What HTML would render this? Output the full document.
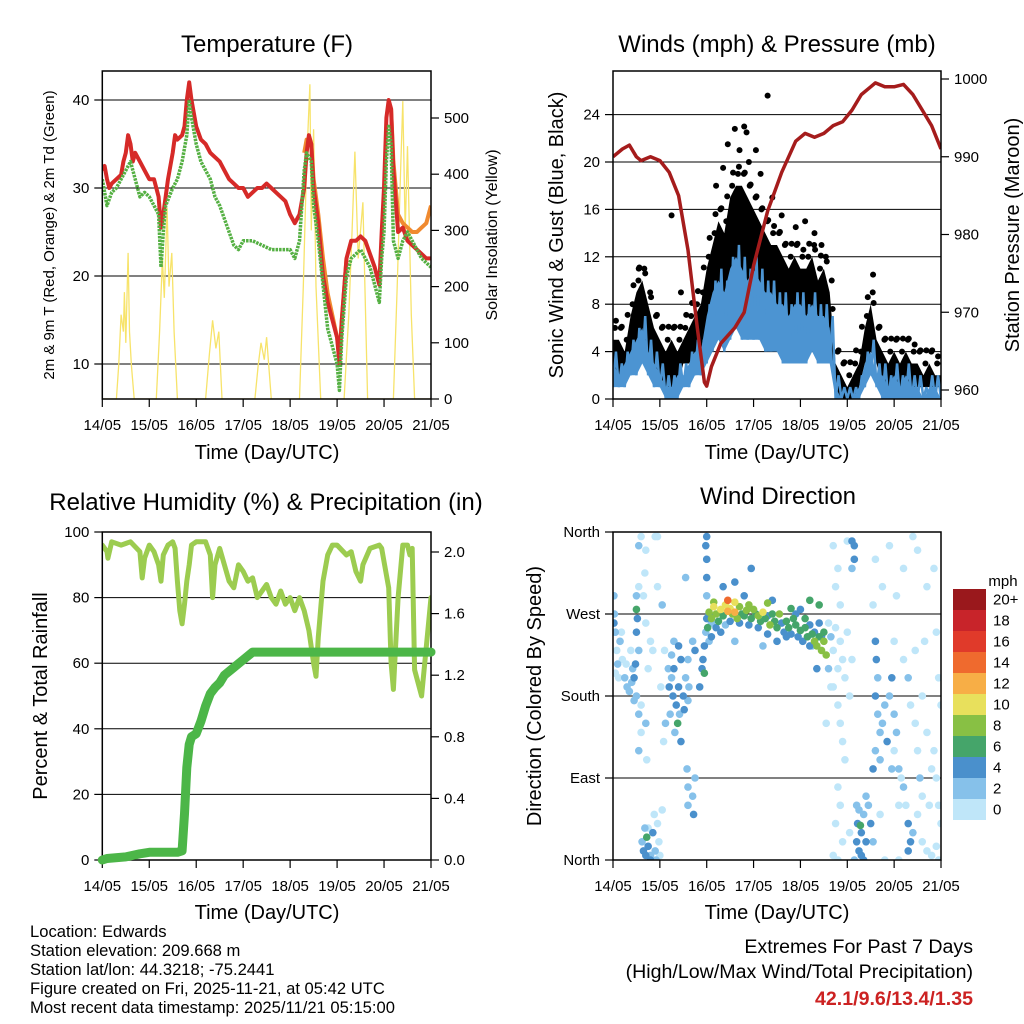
<!DOCTYPE html>
<html><head><meta charset="utf-8"><title>Station Meteogram</title>
<style>
html,body{margin:0;padding:0;background:#fff;}
svg{display:block;font-family:"Liberation Sans",Arial,sans-serif;}
</style></head>
<body>
<svg id="chart" width="1024" height="1024" viewBox="0 0 1024 1024" xmlns="http://www.w3.org/2000/svg">
<rect width="1024" height="1024" fill="#fff"/>
<defs>
<clipPath id="clipT"><rect x="102.3" y="71" width="328.7" height="328"/></clipPath>
<clipPath id="clipW"><rect x="613" y="71" width="328" height="328"/></clipPath>
<clipPath id="clipR"><rect x="102.3" y="532" width="328.7" height="328"/></clipPath>
<clipPath id="clipD"><rect x="613" y="532" width="328" height="328"/></clipPath>
</defs>
<g id="gT"></g>
<g id="gW"></g>
<g id="gR"></g>
<g id="gD"></g>

<text x="267" y="52" font-size="24" text-anchor="middle">Temperature (F)</text>
<text x="777" y="52" font-size="24" text-anchor="middle">Winds (mph) &amp; Pressure (mb)</text>
<text x="266" y="510" font-size="24" text-anchor="middle">Relative Humidity (%) &amp; Precipitation (in)</text>
<text x="778" y="504" font-size="24" text-anchor="middle">Wind Direction</text>

<text x="267" y="459" font-size="20" text-anchor="middle">Time (Day/UTC)</text>
<text x="777" y="459" font-size="20" text-anchor="middle">Time (Day/UTC)</text>
<text x="267" y="919" font-size="20" text-anchor="middle">Time (Day/UTC)</text>
<text x="777" y="919" font-size="20" text-anchor="middle">Time (Day/UTC)</text>

<text transform="translate(54,235) rotate(-90)" font-size="15" text-anchor="middle">2m &amp; 9m T (Red, Orange) &amp; 2m Td (Green)</text>
<text transform="translate(497,235) rotate(-90)" font-size="16" text-anchor="middle">Solar Insolation (Yellow)</text>
<text transform="translate(563,235) rotate(-90)" font-size="20" text-anchor="middle">Sonic Wind &amp; Gust (Blue, Black)</text>
<text transform="translate(1019,235) rotate(-90)" font-size="20" text-anchor="middle">Station Pressure (Maroon)</text>
<text transform="translate(47,696) rotate(-90)" font-size="20" text-anchor="middle">Percent &amp; Total Rainfall</text>
<text transform="translate(541,696) rotate(-90)" font-size="20" text-anchor="middle">Direction (Colored By Speed)</text>

<g font-size="16.6">
<text x="30" y="937">Location: Edwards</text>
<text x="30" y="956">Station elevation: 209.668 m</text>
<text x="30" y="975">Station lat/lon: 44.3218; -75.2441</text>
<text x="30" y="994">Figure created on Fri, 2025-11-21, at 05:42 UTC</text>
<text x="30" y="1013">Most recent data timestamp: 2025/11/21 05:15:00</text>
</g>
<g text-anchor="end">
<text x="973" y="953" font-size="19.6">Extremes For Past 7 Days</text>
<text x="973" y="978" font-size="19.6">(High/Low/Max Wind/Total Precipitation)</text>
<text x="973" y="1005" font-size="19.6" font-weight="bold" fill="#cc2222">42.1/9.6/13.4/1.35</text>
</g>
<g id="cbar"></g>
</svg>
<script>
// ---------- DATA ----------
const dayLabels = ["14/05","15/05","16/05","17/05","18/05","19/05","20/05","21/05"];
// Temperature panel
const tempTicks = [10,20,30,40];
const solarTicks = [0,100,200,300,400,500];
const t2mT = [0,0.05,0.1,0.15,0.2,0.3,0.4,0.45,0.5,0.55,0.6,0.65,0.7,0.8,0.9,1.0,1.1,1.2,1.25,1.3,1.4,1.5,1.55,1.6,1.7,1.75,1.8,1.85,1.9,2.0,2.1,2.2,2.3,2.4,2.5,2.6,2.7,2.8,2.9,3.0,3.1,3.2,3.3,3.4,3.5,3.6,3.7,3.8,3.9,4.0,4.1,4.2,4.3,4.35,4.4,4.45,4.5,4.6,4.7,4.8,4.9,5.0,5.05,5.1,5.2,5.3,5.4,5.5,5.6,5.7,5.8,5.9,5.95,6.0,6.05,6.1,6.15,6.2,6.3,6.4,6.5,6.6,6.7,6.8,6.9,7.0];
const t2mV = [32,32.5,31,30,30.5,31,31.5,33,34,36,35,33,34,33,32,31,31,29,25.5,27,31,34,36,35.5,36,37,40,42,40,37,35.5,35,34,33.5,33,32,31,30.5,30,30,29,29.5,30,30,30.5,30,29.5,29,28.5,27,26,27,30,34,36,35,30,26,20,17,15,13,10,15,22,24,24,24.5,24,22.5,21,19,25,30,38,40,39,32,25,25.5,24,23.5,23,22.5,22,22];
const t9mT = [4.3,4.35,4.45,4.5,4.6,4.7,4.8,4.9,5.0,5.05,5.1,5.2,null,6.15,6.2,6.3,6.4,6.5,6.6,6.7,6.8,6.9,7.0];
const t9mV = [34,35.5,35,31,27,22,18,15.5,13,11,15,22,null,39,33,27,26,25.5,25,25,25.5,26,28];
const tdT = [0,0.1,0.2,0.3,0.4,0.5,0.6,0.7,0.8,0.9,1.0,1.1,1.2,1.25,1.3,1.35,1.5,1.6,1.7,1.8,1.85,1.9,2.0,2.1,2.2,2.3,2.4,2.5,2.6,2.7,2.8,2.9,3.0,3.2,3.4,3.6,3.8,4.0,4.1,4.2,4.3,4.35,4.45,4.5,4.6,4.7,4.8,4.9,5.0,5.05,5.1,5.2,5.3,5.5,5.7,5.8,5.9,5.95,6.0,6.05,6.1,6.15,6.2,6.3,6.4,6.5,6.6,6.8,7.0];
const tdV = [31,28,29.5,30,31,32,33,31,29,29.5,29,28,27,21,25,28,30,31,33,36,40,38,35,33,32,31,29,28,26.5,25,23.5,23,24,24,23.5,23,23,23,22,24,32,34,33,28,24,19,14,12,10,7,13,20,22,23,21,19,17,22,25,33,37,35,24,22,24,25,24,22,21];
const solarT = [0,0.30,0.35,0.40,0.45,0.47,0.50,0.55,0.58,0.62,0.68,1.15,1.22,1.28,1.32,1.38,1.42,1.48,1.53,1.6,2.2,2.28,2.35,2.42,2.48,2.55,3.25,3.32,3.38,3.45,3.5,3.6,4.2,4.28,4.35,4.42,4.45,4.5,4.55,4.65,5.15,5.25,5.32,5.38,5.45,5.55,5.65,6.2,6.28,6.35,6.4,6.45,6.5,6.58,6.65,7.0];
const solarV = [0,0,60,150,120,190,100,260,120,60,0,0,120,250,180,340,200,260,120,0,0,80,140,90,120,0,0,60,100,70,110,0,0,200,420,560,300,480,200,0,0,150,300,440,250,350,0,0,200,400,530,300,450,150,0,0];
// Winds panel
const windTicks = [0,4,8,12,16,20,24];
const presTicks = [960,970,980,990,1000];
const windLo = [1,1,1,2,2,3,2,1,1,0,0,0,1,1,2,2,3,4,5,4,5,6,5,5,5,5,4,4,4,3,3,3,3,3,4,3,3,3,0,0,0,0,0,1,2,1,0,0,0,0,0,0,0,0,0,0,0];
const windHi = [4,3,4,5,6,7,5,4,3,2,2,3,3,4,5,5,8,10,11,10,12,13,12,11,12,11,10,10,9,9,8,9,9,8,9,8,8,7,2,1,1,1,2,4,5,3,3,2,3,2,3,2,2,1,2,2,1];
const gustLo = [2,2,2,3,4,5,4,3,2,1,1,1,3,3,4,4,6,8,9,9,10,11,10,9,10,9,8,8,7,7,6,6,7,6,7,6,6,5,0,0,0,0,1,3,4,3,1,1,1,1,1,1,1,1,1,1,1];
const gustHi = [6,6,5,8,10,11,9,7,6,5,6,5,6,7,8,9,12,14,16,15,18,19,19,18,17,16,15,14,14,13,12,13,12,12,13,11,12,10,4,3,2,3,4,7,9,6,5,4,5,4,5,4,4,3,4,3,3];
const gustPeakT = [1.25,3.3,2.8,2.85,2.6,2.45,3.05,1.45,0.55,5.55,2.2,2.35,2.7,2.9,3.15,3.4,3.6,3.9,4.1,4.3,4.45];
const gustPeakV = [15.5,25.6,23,22.5,22.8,21.5,21,9,11,10.5,18,19.5,21,20,19,17,15.5,14.5,15,14,13];
const presT = [0,0.2,0.35,0.5,0.6,0.8,1.0,1.2,1.4,1.6,1.8,1.95,2.0,2.1,2.3,2.6,2.8,3.0,3.3,3.6,3.9,4.1,4.3,4.5,4.7,4.9,5.1,5.3,5.5,5.6,5.8,6.0,6.2,6.4,6.6,6.8,7.0];
const presV = [990,991,991.5,990,989.5,990,989.5,988,985,978,968,961,960.5,963,966,968,970,976,983,988,992,993,992.5,993,994,994.5,996,998,999,999.5,999,999,999.3,998,996,994,991];
// Humidity panel
const rhTicks = [0,20,40,60,80,100];
const prTicks = [0.0,0.4,0.8,1.2,1.6,2.0];
const rhT = [0,0.1,0.12,0.2,0.4,0.6,0.8,0.85,0.9,1.0,1.1,1.2,1.25,1.3,1.4,1.5,1.55,1.6,1.65,1.7,1.75,1.8,1.85,1.9,2.0,2.2,2.3,2.35,2.4,2.5,2.6,2.7,2.8,2.9,3.0,3.1,3.2,3.3,3.4,3.5,3.6,3.7,3.8,3.9,4.0,4.1,4.2,4.3,4.4,4.5,4.55,4.6,4.7,4.8,4.9,5.0,5.2,5.3,5.4,5.5,5.55,5.7,5.9,5.95,6.0,6.1,6.15,6.2,6.3,6.4,6.5,6.55,6.6,6.65,6.8,7.0];
const rhV = [96,94,92,97,96,97,94,86,92,96,94,90,85,93,96,97,95,85,76,72,78,85,90,96,97,97,93,80,90,95,90,85,83,90,88,85,86,80,82,84,80,78,82,78,80,76,80,76,70,60,56,68,85,93,96,96,93,94,88,85,90,95,96,95,91,83,60,52,80,96,96,93,95,58,50,80,97,95];
const prT = [0,0.1,0.5,0.8,1.0,1.6,1.7,1.75,1.8,1.85,1.9,2.0,2.1,2.2,2.3,2.4,2.5,2.6,2.8,3.0,3.2,7.0];
const prV = [0,0.01,0.02,0.04,0.05,0.05,0.06,0.3,0.6,0.75,0.8,0.82,0.9,1.0,1.08,1.12,1.15,1.2,1.25,1.3,1.35,1.35];
// Wind direction panel
const dirLabels = ["North","East","South","West","North"];
const dirTickDeg = [0,90,180,270,360];
const spdLabels = ["0","2","4","6","8","10","12","14","16","18","20+"];
const dirT = [0.02,0.03,0.05,0.08,0.1,0.12,0.15,0.2,0.25,0.3,0.05,0.02,0.18,0.28,0.35,0.4,0.45,0.42,0.38,
0.5,0.52,0.5,0.55,0.48,0.45,0.5,0.55,0.6,0.5,0.55,
0.6,0.9,0.95,0.7,0.55,0.68,0.65,0.7,0.55,0.8,0.75,0.95,0.85,0.7,0.6,0.72,
0.62,0.65,0.7,0.72,0.75,0.8,0.85,0.9,0.95,0.92,0.68,1.0,0.88,1.05,0.98,0.8,0.75,
1.2,1.25,1.3,1.28,1.35,1.4,1.42,1.45,1.38,1.5,1.55,1.52,1.6,1.32,1.22,1.18,1.45,1.4,1.3,1.25,1.6,1.58,1.6,1.6,1.62,1.12,1.08,
1.05,1.1,1.02,1.55,1.7,1.75,1.7,1.72,1.75,1.85,1.9,
1.92,1.95,1.98,2.0,2.0,2.05,2.02,2.0,2.0,1.98,2.0,2.05,1.95,2.1,
2.05,2.1,2.15,2.2,2.25,2.3,2.35,2.4,2.45,2.5,2.55,2.6,2.65,2.7,2.75,2.8,2.85,2.9,2.95,3.0,3.05,3.1,3.15,3.2,3.25,3.3,3.35,3.4,3.45,3.5,3.55,3.6,3.65,3.7,3.75,3.8,3.85,3.9,3.95,4.0,4.05,4.1,4.15,4.2,4.25,4.3,4.35,4.4,4.45,4.5,4.55,4.5,4.4,4.3,4.2,4.1,2.2,2.3,2.5,2.7,2.9,3.1,3.3,3.5,3.7,3.9,2.4,2.6,3.2,2.35,2.6,2.8,2.95,3.4,4.0,4.2,4.4,4.35,4.25,4.45,2.1,2.15,2.6,3.3,3.8,2.45,
4.6,4.65,4.7,4.75,4.8,4.85,4.9,4.95,4.7,4.8,4.85,4.9,4.75,4.8,4.85,4.7,5.0,5.0,4.95,4.8,4.75,4.9,4.8,4.7,4.85,5.05,5.1,4.6,4.65,4.55,
5.1,5.15,5.15,5.1,5.2,5.22,5.25,5.3,5.35,5.4,5.3,5.45,5.5,5.25,5.35,5.28,5.2,5.4,5.15,5.55,5.05,
5.6,5.62,5.65,5.6,5.65,5.7,5.6,5.55,5.7,5.75,5.8,5.85,5.9,5.95,6.0,6.05,6.0,6.1,6.15,6.2,6.25,6.3,6.35,6.3,6.4,6.5,6.6,6.7,6.8,6.9,6.95,6.9,6.85,6.8,6.7,6.6,6.95,6.9,6.85,6.7,6.5,6.4,6.2,6.05,5.9,5.75,5.6,5.55,6.3,6.35,6.45,6.5,6.55,6.6,6.65,6.75,7.0,7.0,6.95,6.1,5.8,6.0,6.2,6.45,5.95,6.1,5.7];
const dirDeg = [290,270,250,230,215,200,240,220,200,190,205,260,250,215,185,195,175,210,230,
275,265,250,230,215,200,180,160,140,290,120,
355,355,355,340,345,315,290,260,300,240,210,300,230,150,170,110,
20,10,5,25,15,5,30,10,40,0,35,5,50,55,20,0,35,
190,200,210,180,170,190,160,220,150,180,200,165,175,140,160,210,130,235,240,225,220,100,60,80,190,150,130,
280,230,190,310,240,230,70,50,90,190,210,
220,235,250,265,290,270,255,310,330,345,355,240,205,260,
272,265,278,270,262,275,268,280,273,276,270,272,265,278,270,268,274,280,265,275,270,268,262,272,265,268,258,270,262,255,270,260,250,262,255,248,265,258,245,252,240,255,245,235,248,240,235,245,230,240,225,250,260,250,258,265,255,250,262,260,258,255,248,240,245,270,258,240,235,300,305,290,320,285,275,285,280,210,235,245,245,283,283,282,276,285,
260,245,230,255,210,240,220,200,190,170,150,130,300,320,280,345,250,350,110,80,40,20,0,5,60,180,220,210,190,150,
350,345,330,320,20,40,10,30,50,20,5,60,40,55,0,38,60,70,0,20,30,
240,220,200,180,160,140,120,100,110,150,170,130,180,200,160,140,120,100,90,80,60,40,20,10,30,50,20,10,5,15,60,90,120,100,140,180,200,250,320,300,340,355,320,290,345,300,330,280,200,170,150,120,90,70,240,60,40,170,0,0,0,240,220,230,100,60,50];
const dirSpd = [2,3,2,1,2,1,2,1,2,2,1,4,0,1,2,2,2,3,1,
6,4,4,3,4,4,3,2,1,3,2,
0,0,1,1,2,1,0,0,1,1,0,0,1,2,1,0,
2,4,4,6,4,3,4,3,0,2,2,0,0,1,1,4,0,
4,3,4,4,5,4,3,5,6,4,3,4,3,2,3,2,4,4,3,2,2,2,2,3,2,2,1,
2,1,1,2,3,4,3,4,2,4,4,
4,4,3,4,3,5,6,4,4,4,4,3,6,2,
8,9,10,8,7,11,6,10,12,11,9,12,8,9,7,6,8,9,7,8,6,9,7,10,6,5,8,6,7,6,9,5,4,6,7,5,6,7,5,6,4,6,7,5,6,8,8,7,8,9,8,7,4,4,4,6,4,4,4,4,5,4,4,4,4,4,3,2,2,4,4,4,4,4,4,6,6,4,3,4,4,8,10,9,7,14,
1,2,0,0,1,0,0,1,0,0,0,1,0,1,0,0,0,0,0,1,1,0,0,0,0,0,0,2,1,1,
4,4,4,2,4,4,4,4,3,4,4,3,4,2,4,6,2,2,2,2,1,
4,4,3,4,2,2,3,4,2,3,2,4,3,4,3,2,1,2,1,2,1,4,4,4,2,1,0,0,0,1,1,0,1,0,1,0,0,0,0,1,0,0,0,0,0,0,1,1,2,1,1,1,2,1,1,0,1,1,0,0,0,1,0,0,2,1,0];
const spdColors = ["#bfe6f9","#86c1ea","#4a90cc","#45a56a","#88c044","#e8e05c","#f7ae46","#ef6a2e","#e03a2a","#c8242a","#9a181c"];

// ---------- HELPERS ----------
const NS = "http://www.w3.org/2000/svg";
function mk(parent, tag, attrs, txt){
  const el = document.createElementNS(NS, tag);
  for (const k in attrs) el.setAttribute(k, attrs[k]);
  if (txt !== undefined) el.textContent = txt;
  parent.appendChild(el);
  return el;
}
function xScale(x0, x1){ return t => x0 + t*(x1-x0)/7; }
function linY(v0, y0, v1, y1){ return v => y0 + (v-v0)*(y1-y0)/(v1-v0); }
function pts(ts, vs, xs, ys){ return ts.map((t,i)=> xs(t).toFixed(1)+","+ys(vs[i]).toFixed(1)).join(" "); }
function pathD(ts, vs, xs, ys){
  let d = "", pen = false;
  ts.forEach((t,i)=>{
    if (t === null || vs[i] === null){ pen = false; return; }
    d += (pen ? "L" : "M") + xs(t).toFixed(1) + "," + ys(vs[i]).toFixed(1);
    pen = true;
  });
  return d;
}

function frame(g, x0, y0, x1, y1, xs, leftTicks, yL, leftFmt, rightTicks, yR, rightFmt, gridVals, gridY){
  gridVals.forEach(v=>{
    const l = mk(g,"line",{x1:x0,x2:x1,y1:gridY(v),y2:gridY(v),stroke:"#000","stroke-width":1});
    
    
  });
  for (let d=0; d<=7; d++){
    const x = xs(d);
    const tk = mk(g,"line",{x1:x,x2:x,y1:y1,y2:y1+8,stroke:"#000","stroke-width":1.2});
    
    
    const lb = mk(g,"text",{x:x,y:y1+31,"font-size":15,"text-anchor":"middle"}, dayLabels[d]);
    
    
  }
  leftTicks.forEach(v=>{
    const y = yL(v);
    const tk = mk(g,"line",{x1:x0-8,x2:x0,y1:y,y2:y,stroke:"#000","stroke-width":1.2});
    
    
    const lb = mk(g,"text",{x:x0-13,y:y+5,"font-size":15,"text-anchor":"end"}, leftFmt(v));
    
    
  });
  if (rightTicks){
    rightTicks.forEach(v=>{
      const y = yR(v);
      const tk = mk(g,"line",{x1:x1,x2:x1+8,y1:y,y2:y,stroke:"#000","stroke-width":1.2});
      
      
      const lb = mk(g,"text",{x:x1+13,y:y+5,"font-size":15,"text-anchor":"start"}, rightFmt(v));
      
      
    });
  }
}
function box(g, x0, y0, x1, y1){
  const r = mk(g,"rect",{x:x0,y:y0,width:x1-x0,height:y1-y0,fill:"none",stroke:"#000","stroke-width":1.5});
  
  
}

// ---------- TEMPERATURE ----------
(function(){
  const g = document.getElementById("gT");
  const x0=102.3,x1=431,y0=71,y1=399;
  const xs = xScale(x0,x1);
  const yT = linY(10,364,40,100);
  const yS = linY(0,399,500,118);
  frame(g,x0,y0,x1,y1,xs,tempTicks,yT,v=>String(v),solarTicks,yS,v=>String(v),tempTicks,yT);
  const c = mk(g,"g",{"clip-path":"url(#clipT)"});
  const sol = mk(c,"polyline",{points:pts(solarT,solarV,xs,yS),fill:"none",stroke:"#f7e36a","stroke-width":1.3});
  
  
  const o = mk(c,"path",{d:pathD(t9mT,t9mV,xs,yT),fill:"none",stroke:"#f08a30","stroke-width":4,"stroke-linejoin":"round"});
  
  
  const r = mk(c,"polyline",{points:pts(t2mT,t2mV,xs,yT),fill:"none",stroke:"#d62a28","stroke-width":4,"stroke-linejoin":"round"});
  
  
  const gr = mk(c,"polyline",{points:pts(tdT,tdV,xs,yT),fill:"none",stroke:"#55b043","stroke-width":3.5,"stroke-dasharray":"2.5 1","stroke-linejoin":"round"});
  
  
  box(g,x0,y0,x1,y1);
})();

// ---------- WINDS ----------
(function(){
  const g = document.getElementById("gW");
  const x0=613,x1=941,y0=71,y1=399;
  const xs = xScale(x0,x1);
  const yW = linY(0,399,24,114.6);
  const yP = linY(960,390,1000,79);
  frame(g,x0,y0,x1,y1,xs,windTicks,yW,v=>String(v),presTicks,yP,v=>String(v),windTicks,yW);
  const c = mk(g,"g",{"clip-path":"url(#clipW)"});
  const n = windLo.length, step = 7/(n-1);
  const ti = windLo.map((_,i)=>i*step);
  const gp = ti.map((t,i)=>xs(t)+","+yW(gustHi[i]-1)).concat(ti.slice().reverse().map((t,j)=>xs(t)+","+yW(gustLo[n-1-j]))).join(" ");
  const gb = mk(c,"polygon",{points:gp,fill:"#000"});
  
  
  ti.forEach((t,i)=>{
    const d = mk(c,"circle",{cx:xs(t)+2,cy:yW(gustHi[i]),r:3,fill:"#000"});
    
    
    if (i < n-1){
      const d2 = mk(c,"circle",{cx:xs(t+step/2),cy:yW((gustHi[i]+gustHi[i+1])/2+0.6),r:3,fill:"#000"});
      
      
    }
  });
  gustPeakT.forEach((t,i)=>{
    const d = mk(c,"circle",{cx:xs(t),cy:yW(gustPeakV[i]),r:3,fill:"#000"});
    
    
  });
  const wp = ti.map((t,i)=>xs(t)+","+yW(windHi[i]-1)).concat(ti.slice().reverse().map((t,j)=>xs(t)+","+yW(windLo[n-1-j]))).join(" ");
  const wb = mk(c,"polygon",{points:wp,fill:"#4c94d2"});
  
  
  const zz = [];
  ti.forEach((t,i)=>{ zz.push(xs(t)+","+yW(windLo[i])); if(i<n-1) zz.push((xs(t)+xs(t+step))/2+","+yW(windHi[i])); });
  const wl = mk(c,"polyline",{points:zz.join(" "),fill:"none",stroke:"#4c94d2","stroke-width":2.5});
  
  
  const pl = mk(c,"polyline",{points:pts(presT,presV,xs,yP),fill:"none",stroke:"#a51c1c","stroke-width":3.5,"stroke-linejoin":"round"});
  
  
  box(g,x0,y0,x1,y1);
})();

// ---------- HUMIDITY ----------
(function(){
  const g = document.getElementById("gR");
  const x0=102.3,x1=431,y0=532,y1=860;
  const xs = xScale(x0,x1);
  const yR = linY(0,860,100,532);
  const yPr = linY(0,860,2.0,552);
  frame(g,x0,y0,x1,y1,xs,rhTicks,yR,v=>String(v),prTicks,yPr,v=>v.toFixed(1),[20,40,60,80],yR);
  const c = mk(g,"g",{"clip-path":"url(#clipR)"});
  const rl = mk(c,"polyline",{points:pts(rhT,rhV,xs,yR),fill:"none",stroke:"#9ccc50","stroke-width":5,"stroke-linejoin":"round","stroke-linecap":"round"});
  
  
  box(g,x0,y0,x1,y1);
  const pl = mk(g,"polyline",{points:pts(prT,prV,xs,yPr),fill:"none",stroke:"#4cb648","stroke-width":9,"stroke-linejoin":"round","stroke-linecap":"round"});
  
  
})();

// ---------- WIND DIRECTION ----------
(function(){
  const g = document.getElementById("gD");
  const x0=613,x1=941,y0=532,y1=860;
  const xs = xScale(x0,x1);
  const yD = linY(0,860,360,532);
  frame(g,x0,y0,x1,y1,xs,dirTickDeg,yD,v=>dirLabels[dirTickDeg.indexOf(v)],null,null,null,[90,180,270],yD);
  const c = mk(g,"g",{"clip-path":"url(#clipD)"});
  const order = dirT.map((_,i)=>i).sort((a,b)=>dirSpd[a]-dirSpd[b]);
  order.forEach(i=>{
    const ci = Math.min(10, Math.floor(dirSpd[i]/2));
    const d = mk(c,"circle",{cx:xs(dirT[i]),cy:yD(dirDeg[i]),r:3.8,fill:spdColors[ci]});
    
    
  });
  box(g,x0,y0,x1,y1);
  const cb = document.getElementById("cbar");
  const bx=953, bw=33, bh=21, by0=820;
  const ttl = mk(cb,"text",{x:1003,y:586,"font-size":15,"text-anchor":"middle"},"mph");
  
  
  spdColors.forEach((col,i)=>{
    const r = mk(cb,"rect",{x:bx,y:by0-(i+1)*bh,width:bw,height:bh,fill:col});
    
    
    const t = mk(cb,"text",{x:993,y:by0-i*bh-bh/2+5,"font-size":15,"text-anchor":"start"},spdLabels[i]);
    
    
  });
})();
</script>
</body></html>
